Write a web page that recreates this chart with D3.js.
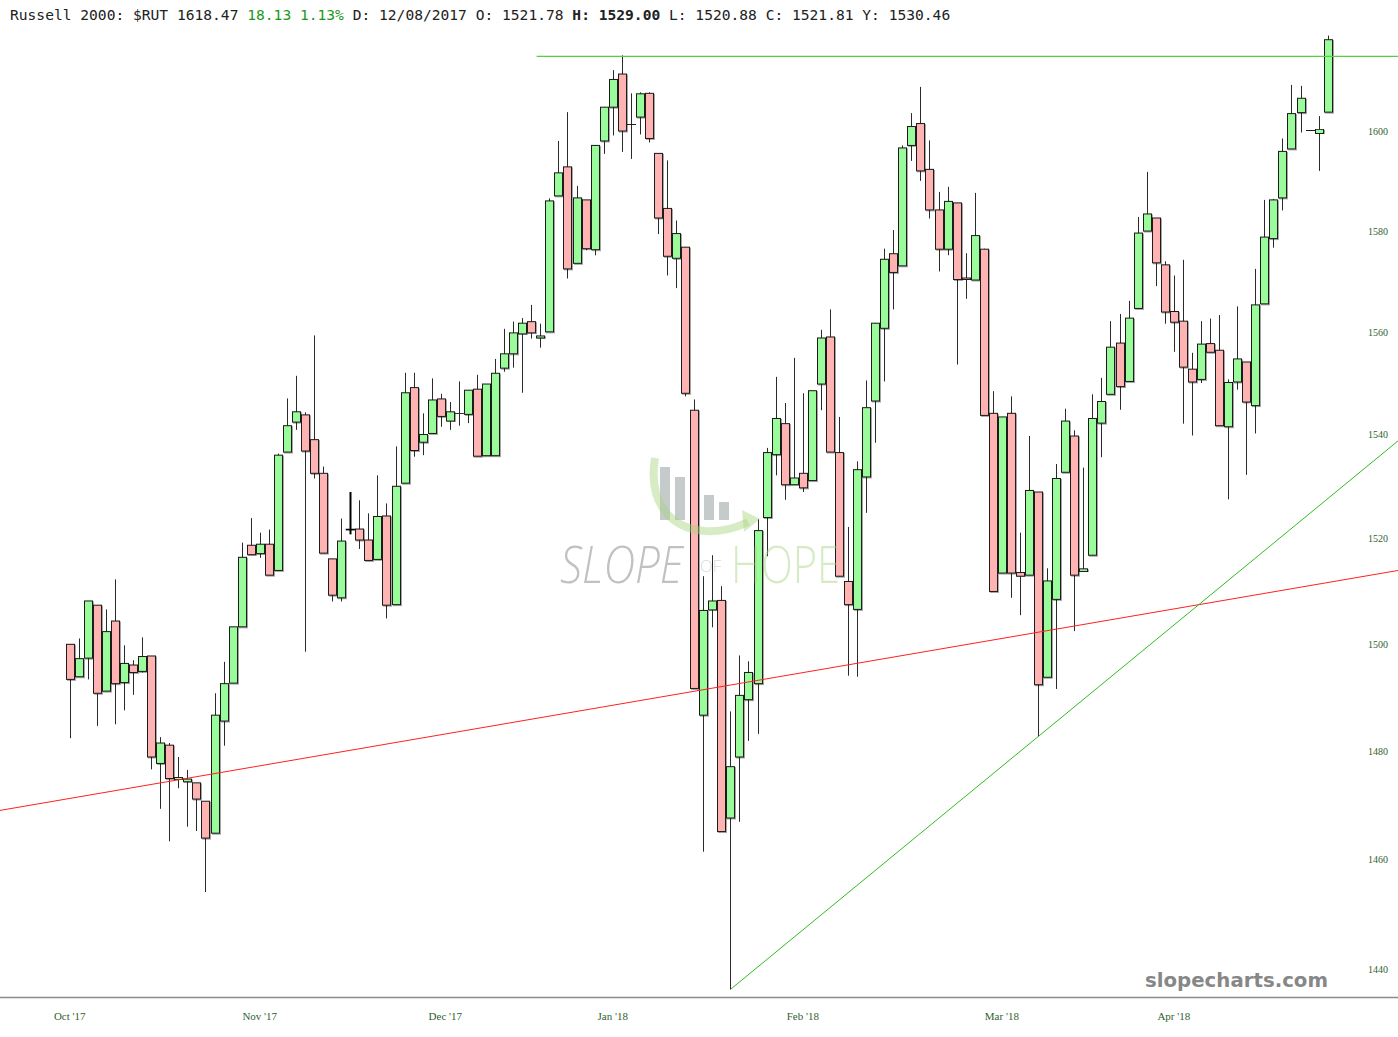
<!DOCTYPE html>
<html><head><meta charset="utf-8">
<script src="https://cdn.jsdelivr.net/npm/d3@7"></script>
<style>html,body{margin:0;padding:0;background:#fff;}svg{display:block;}</style>
</head><body>
<script>
// ---- data ----
const openV = [1500.0,1493.9,1497.4,1507.4,1491.2,1504.4,1492.8,1496.1,1494.9,1497.8,1477.7,1481.1,1474.7,1474.3,1474.1,1470.7,1464.8,1485.6,1492.7,1503.3,1518.8,1517.2,1519.0,1514.0,1536.7,1542.5,1543.9,1539.1,1532.6,1516.2,1508.8,1521.78,1521.9,1519.8,1516.1,1524.4,1507.5,1530.7,1549.2,1538.6,1540.3,1547.0,1542.7,1544.2,1544.0,1548.9,1536.0,1536.0,1553.0,1555.8,1559.7,1562.1,1558.9,1560.1,1587.0,1592.8,1573.6,1586.2,1576.3,1598.0,1604.8,1611.5,1601.3,1602.8,1607.6,1595.5,1584.5,1574.6,1576.8,1544.8,1486.7,1506.5,1508.3,1467.6,1478.9,1489.6,1492.6,1524.1,1536.2,1542.2,1530.4,1532.6,1531.2,1549.9,1559.1,1536.6,1511.9,1506.6,1531.9,1546.6,1560.8,1575.5,1573.1,1597.1,1601.5,1592.3,1584.2,1576.4,1585.6,1570.7,1570.3,1576.4,1544.2,1513.5,1544.2,1513.6,1513.1,1529.0,1493.8,1508.5,1532.8,1539.8,1513.8,1516.9,1542.3,1547.9,1557.9,1550.4,1564.7,1580.0,1582.6,1573.3,1564.1,1562.2,1552.8,1550.8,1557.8,1556.5,1541.6,1550.3,1554.2,1545.7,1565.6,1578.5,1586.6,1596.4,1603.7,1600.1,1599.5,1603.8];
const highV = [1500.0,1501.1,1508.2,1507.4,1506.6,1512.3,1499.8,1497.0,1501.3,1497.8,1482.6,1481.5,1478.9,1476.5,1474.1,1470.7,1490.8,1496.7,1503.3,1519.3,1524.0,1521.2,1521.8,1536.4,1547.1,1551.5,1544.4,1559.4,1533.9,1516.2,1523.9,1529.00,1527.4,1524.9,1532.2,1526.8,1537.8,1552.1,1552.1,1544.2,1551.0,1548.0,1546.4,1550.4,1548.7,1551.7,1549.9,1554.8,1560.7,1562.1,1562.8,1565.4,1561.7,1586.5,1598.0,1603.8,1589.0,1586.2,1597.1,1604.8,1612.3,1615.3,1607.6,1607.8,1607.8,1595.5,1594.1,1582.1,1576.8,1546.9,1512.9,1516.9,1511.0,1487.4,1497.9,1496.8,1523.8,1537.5,1551.3,1546.2,1555.0,1548.1,1548.6,1560.5,1564.5,1543.5,1522.3,1534.9,1550.6,1561.8,1576.5,1580.2,1597.1,1603.6,1608.9,1598.1,1587.8,1588.8,1585.6,1575.6,1587.6,1576.5,1548.5,1543.5,1547.5,1521.2,1539.8,1529.0,1514.4,1534.4,1545.1,1540.9,1533.7,1547.9,1551.1,1562.2,1563.6,1566.2,1582.8,1591.8,1582.6,1574.0,1571.2,1574.3,1556.0,1562.2,1562.7,1563.4,1550.8,1565.1,1554.2,1572.5,1586.2,1586.4,1598.5,1609.3,1609.1,1600.1,1603.0,1619.3];
const lowV = [1482.4,1493.9,1493.4,1484.7,1491.2,1485.0,1487.6,1490.5,1494.7,1476.6,1469.3,1463.3,1473.1,1466.0,1465.2,1454.0,1464.8,1481.0,1492.7,1503.3,1517.0,1516.4,1513.1,1514.0,1536.7,1541.0,1498.6,1531.6,1517.3,1508.1,1508.1,1520.88,1518.1,1515.9,1516.1,1504.9,1507.5,1530.7,1535.8,1536.1,1540.3,1541.6,1541.0,1541.8,1542.3,1535.9,1536.0,1536.0,1552.3,1553.1,1548.2,1558.8,1557.0,1560.1,1587.0,1570.6,1573.6,1576.2,1575.2,1595.4,1599.1,1595.8,1594.4,1599.3,1597.7,1579.4,1571.2,1568.7,1547.5,1491.7,1461.4,1503.2,1465.1,1436.3,1466.9,1481.9,1483.2,1516.7,1532.2,1527.5,1530.4,1529.0,1531.2,1544.8,1536.7,1512.9,1494.1,1493.9,1525.0,1538.5,1550.4,1564.5,1573.1,1594.0,1590.0,1582.5,1572.0,1575.2,1553.7,1566.6,1570.3,1543.8,1510.0,1513.5,1508.8,1505.5,1513.1,1482.7,1493.8,1491.6,1532.8,1502.5,1513.8,1516.9,1535.7,1547.9,1544.9,1550.4,1564.7,1580.0,1569.1,1561.7,1556.2,1542.2,1539.9,1550.1,1556.1,1541.8,1527.6,1548.8,1532.3,1540.3,1565.6,1576.7,1584.1,1596.4,1599.7,1600.1,1592.0,1603.8];
const closeV = [1493.4,1497.3,1508.2,1490.8,1502.4,1492.6,1496.4,1494.7,1497.7,1478.9,1481.5,1474.9,1475.1,1474.8,1471.1,1463.9,1486.7,1492.6,1503.3,1516.5,1517.0,1519.0,1513.1,1536.1,1541.8,1544.5,1536.9,1532.6,1517.3,1509.3,1519.6,1521.81,1519.8,1515.9,1524.3,1507.4,1530.1,1548.2,1537.0,1540.1,1546.8,1543.6,1544.5,1544.2,1548.7,1535.9,1549.9,1552.0,1555.8,1559.9,1561.8,1559.9,1559.3,1586.0,1591.6,1572.5,1586.6,1576.5,1597.1,1604.8,1610.4,1600.0,1601.3,1607.5,1598.5,1582.6,1575.0,1579.5,1548.1,1491.7,1506.4,1508.2,1465.1,1477.1,1490.4,1494.7,1521.6,1536.6,1543.2,1530.4,1531.7,1529.8,1548.6,1558.9,1536.7,1512.9,1507.5,1533.3,1545.3,1561.8,1574.4,1571.8,1596.6,1600.9,1592.0,1584.2,1576.4,1585.9,1570.4,1570.4,1579.1,1543.8,1510.0,1543.5,1513.5,1512.9,1529.3,1492.4,1512.0,1531.6,1542.7,1513.1,1514.3,1543.2,1546.5,1557.1,1549.4,1562.8,1579.6,1583.4,1573.7,1564.0,1562.0,1553.2,1550.3,1557.7,1556.1,1541.8,1550.2,1554.8,1546.4,1565.4,1578.8,1586.2,1595.9,1603.5,1606.6,1600.1,1600.34,1618.47];
const highlightIndex = 31;               // hovered bar 12/08/2017
const monthLabels = ["Oct '17","Nov '17","Dec '17","Jan '18","Feb '18","Mar '18","Apr '18"];
const monthAt = [0, 21, 41.5, 60, 81, 103, 122];
const priceTicks = [1440,1460,1480,1500,1520,1540,1560,1580,1600];
const redTrend = [[-7.7,1469.0],[146.8,1514.0]];
const greenTrend = [[73,1436.3],[146.8,1538.9]];
const greenLevel = [[51.6,1615.1],[146.8,1615.1]];

// ---- drawing ----
const W = 1398, H = 1037;
const svg = d3.select("body").append("svg").attr("width", W).attr("height", H);
const x = d3.scaleLinear().domain([0, 139]).range([69.7, 1327.7]);
const y = d3.scaleLog().domain([1440, 1600]).range([969, 131]);

const defs = svg.append("defs");
defs.append("clipPath").attr("id","plot").append("rect").attr("x",0).attr("y",0).attr("width",W).attr("height",997);
const sh = defs.append("filter").attr("id","sh").attr("x","-20%").attr("y","-5%").attr("width","160%").attr("height","115%");
sh.append("feDropShadow").attr("dx",1).attr("dy",1).attr("stdDeviation",0.6).attr("flood-color","#000").attr("flood-opacity",0.35);

// axis line
svg.append("line").attr("x1",0).attr("x2",W).attr("y1",997.5).attr("y2",997.5).attr("stroke","#8c8c8c").attr("stroke-width",1.5);

// price labels (right)
svg.append("g").selectAll("text").data(priceTicks).join("text")
  .attr("x",1378).attr("y",d=>y(d)).attr("dy","0.35em").attr("text-anchor","middle")
  .attr("font-family","'Liberation Serif', 'DejaVu Serif', serif").attr("font-size",10)
  .attr("fill","#2f5f2f").text(d=>d);

// month labels
svg.append("g").selectAll("text").data(monthLabels).join("text")
  .attr("x",(d,i)=>x(monthAt[i])).attr("y",1020).attr("text-anchor","middle")
  .attr("font-family","'Liberation Serif', 'DejaVu Serif', serif").attr("font-size",11)
  .attr("fill","#2f5f2f").text(d=>d);

const plot = svg.append("g").attr("clip-path","url(#plot)");
const lineGen = d3.line().x(d=>x(d[0])).y(d=>y(d[1]));

const idx = d3.range(openV.length);
// wicks
plot.append("g").selectAll("line").data(idx).join("line")
  .attr("x1",i=>Math.round(x(i))+0.5).attr("x2",i=>Math.round(x(i))+0.5)
  .attr("y1",i=>y(highV[i])).attr("y2",i=>y(lowV[i]))
  .attr("stroke",i=>i===highlightIndex?"#000":"#2a2a2a")
  .attr("stroke-width",i=>i===highlightIndex?2:1);
// bodies
const bw = 8;
plot.append("g").selectAll("rect").data(idx).join("rect")
  .attr("x",i=>Math.round(x(i))+0.5-bw/2).attr("width",bw)
  .attr("y",i=>y(Math.max(openV[i],closeV[i])))
  .attr("height",i=>Math.max(0.01, y(Math.min(openV[i],closeV[i]))-y(Math.max(openV[i],closeV[i]))))
  .attr("fill",i=>i===highlightIndex?"#000":(closeV[i]>=openV[i]?"#99fb99":"#ffb3b3"))
  .attr("stroke",i=>i===highlightIndex?"#000":"#1a1a1a")
  .attr("stroke-width",i=>i===highlightIndex?1.5:1)
  .attr("filter",i=>i===highlightIndex?null:"url(#sh)");

// trend lines
plot.append("path").datum(redTrend).attr("d",lineGen).attr("fill","none").attr("stroke","#ff2020").attr("stroke-width",1);
plot.append("path").datum(greenTrend).attr("d",lineGen).attr("fill","none").attr("stroke","#33bb22").attr("stroke-width",1);
plot.append("path").datum(greenLevel).attr("d",lineGen).attr("fill","none").attr("stroke","#55cc44").attr("stroke-width",1.3);

// watermark (semi transparent, on top)
const wm = svg.append("g").attr("pointer-events","none");
const bars = [[660,467],[675,477],[704,495],[719,502]];
wm.selectAll("rect").data(bars).join("rect")
  .attr("x",d=>d[0]).attr("y",d=>d[1]).attr("width",10).attr("height",d=>520-d[1])
  .attr("fill","#7f8b8b").attr("opacity",0.45);
wm.append("path").attr("d","M655,458 C648,500 668,528 705,531 C722,532 736,528 748,522")
  .attr("fill","none").attr("stroke","#a6d47f").attr("stroke-width",8).attr("opacity",0.45);
wm.append("path").attr("d","M742,510 L760,519 L744,532 Z").attr("fill","#a6d47f").attr("opacity",0.45);
wm.append("text").attr("transform","translate(560,583) scale(1,1.12)").attr("font-family","'Open Sans', sans-serif").attr("font-style","italic")
  .attr("font-weight",300).attr("font-size",46).attr("textLength",123).attr("lengthAdjust","spacingAndGlyphs")
  .attr("fill","#8f8f8f").attr("opacity",0.55).text("SLOPE");
wm.append("text").attr("x",700).attr("y",572).attr("font-family","'Open Sans', sans-serif")
  .attr("font-weight",300).attr("font-size",17).attr("textLength",21).attr("lengthAdjust","spacingAndGlyphs")
  .attr("fill","#aaaaaa").attr("opacity",0.45).text("OF");
wm.append("text").attr("transform","translate(731,583) scale(1,1.12)").attr("font-family","'Open Sans', sans-serif")
  .attr("font-weight",300).attr("font-size",46).attr("textLength",109).attr("lengthAdjust","spacingAndGlyphs")
  .attr("fill","#a6d47f").attr("opacity",0.45).text("HOPE");

// slopecharts.com
svg.append("text").attr("x",1328).attr("y",987).attr("text-anchor","end")
  .attr("font-family","'DejaVu Sans', Verdana, sans-serif").attr("font-weight","bold").attr("font-size",19)
  .attr("textLength",183).attr("lengthAdjust","spacingAndGlyphs")
  .attr("fill","#878787").text("slopecharts.com");

// header
const hdr = svg.append("text").attr("x",10).attr("y",20)
  .attr("font-family","'DejaVu Sans Mono', 'Liberation Mono', monospace").attr("font-size",14.6).attr("fill","#222");
hdr.append("tspan").text("Russell 2000: $RUT 1618.47 ");
hdr.append("tspan").attr("fill","#1a9a1a").text("18.13 1.13%");
hdr.append("tspan").text(" D: 12/08/2017 O: 1521.78 ");
hdr.append("tspan").attr("font-weight","bold").text("H: 1529.00");
hdr.append("tspan").text(" L: 1520.88 C: 1521.81 Y: 1530.46");
</script>
</body></html>
